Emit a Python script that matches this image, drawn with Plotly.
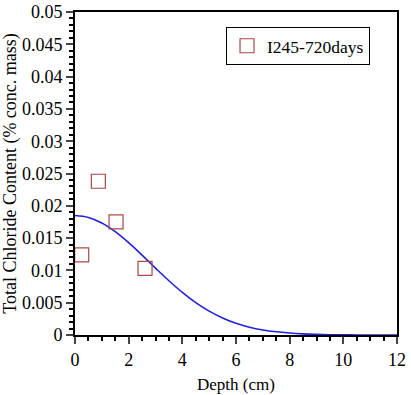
import plotly.graph_objects as go

# Measured data
meas_depth = [0.25, 0.87, 1.53, 2.61]
meas_cl = [0.0124, 0.0238, 0.0175, 0.0103]

# Fitted curve
fit_depth = [0, 0.5, 1, 1.5, 2, 2.5, 3, 3.5, 4, 4.5, 5, 5.5, 6, 6.5, 7, 7.5, 8, 8.5, 9, 9.5, 10, 10.5, 11, 11.5, 12]
fit_cl = [0.0185, 0.0182, 0.01734, 0.0160, 0.01429, 0.01236, 0.01035, 0.0084, 0.00659, 0.00501,
          0.00369, 0.00263, 0.00181, 0.00121, 0.00078, 0.00049, 0.0003, 0.000175, 0.0001, 0.00005,
          0.00003, 0.00001, 0.0, 0.0, 0.0]

x_ticks = [0, 2, 4, 6, 8, 10, 12]
y_ticks = [0, 0.005, 0.01, 0.015, 0.02, 0.025, 0.03, 0.035, 0.04, 0.045, 0.05]
y_ticktext = ["0", "0.005", "0.01", "0.015", "0.02", "0.025", "0.03", "0.035", "0.04", "0.045", "0.05"]

fig = go.Figure()
fig.add_trace(go.Scatter(x=fit_depth, y=fit_cl, mode="lines", line=dict(color="#2222dd", width=1.6),
                         showlegend=False, line_shape="spline"))
fig.add_trace(go.Scatter(x=meas_depth, y=meas_cl, mode="markers", name="I245-720days",
                         marker=dict(symbol="square-open", size=14, color="#a84a4a", line=dict(width=1.2))))

font = "Liberation Serif, Times New Roman, serif"
fig.update_layout(
    width=411, height=395,
    margin=dict(l=75, r=14, t=12, b=60),
    plot_bgcolor="white", paper_bgcolor="white",
    font=dict(family=font, size=18, color="black"),
    showlegend=True,
    legend=dict(x=0.469, y=0.954, xanchor="left", yanchor="top", bordercolor="black", borderwidth=1,
                bgcolor="white", font=dict(size=17.5, family=font)),
)
fig.update_xaxes(range=[0, 12], tickvals=x_ticks, ticks="outside", ticklen=7, tickwidth=1.5,
                 tickfont=dict(size=18), automargin=False,
                 showline=True, linewidth=2, linecolor="black", mirror=True, showgrid=False, zeroline=False,
                 minor=dict(dtick=0.5, ticks="outside", ticklen=4, tickcolor="black", showgrid=False),
                 title=dict(text="Depth (cm)", font=dict(size=17), standoff=10))
fig.update_yaxes(range=[0, 0.05], tickvals=y_ticks, ticktext=y_ticktext, ticks="outside", ticklen=7, tickwidth=1.5,
                 tickfont=dict(size=18), automargin=False,
                 showline=True, linewidth=2, linecolor="black", mirror=True, showgrid=False, zeroline=False,
                 minor=dict(dtick=0.001, ticks="outside", ticklen=4, tickcolor="black", showgrid=False),
                 title=dict(text="Total Chloride Content (% conc. mass)", font=dict(size=18), standoff=4))
fig.write_html("out.html")
